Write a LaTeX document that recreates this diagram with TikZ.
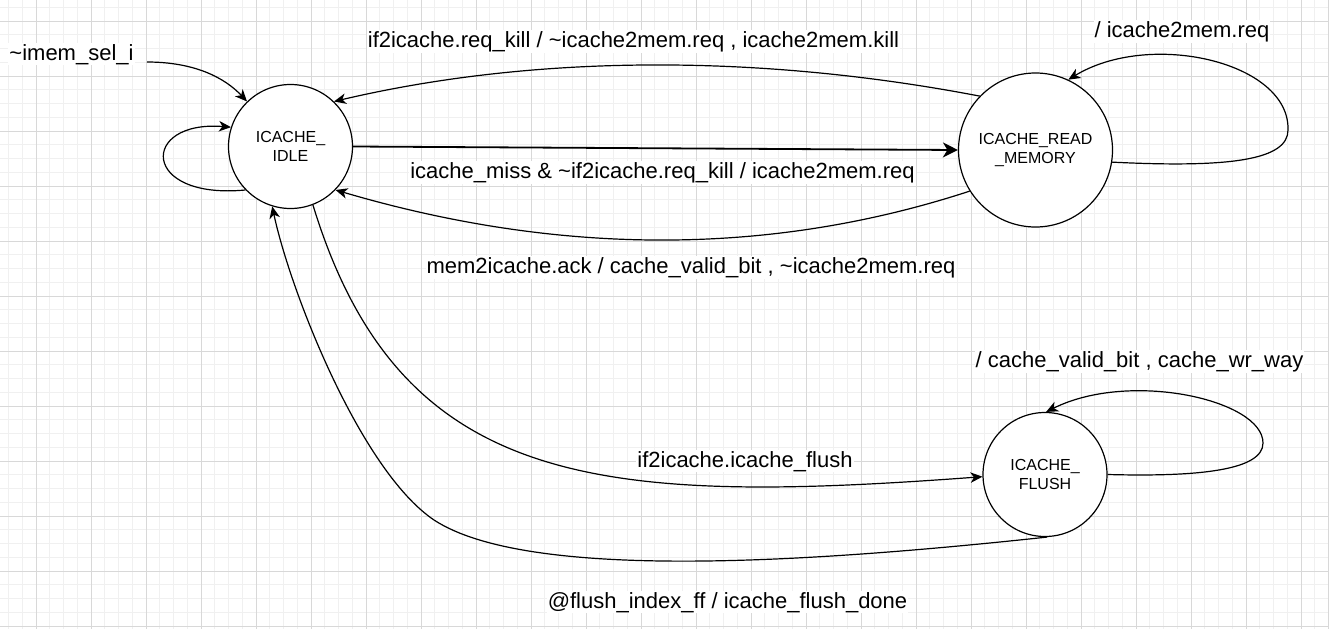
\documentclass[tikz,border=0pt]{standalone}
\usepackage{fontspec}
\setmainfont{Liberation Sans}
\usetikzlibrary{arrows.meta}
\definecolor{gridminor}{RGB}{240,240,240}
\definecolor{gridmajor}{RGB}{216,216,216}

\begin{document}
\begin{tikzpicture}[x=1pt,y=-1pt,
	state/.style={circle,draw,line width=1.2pt,fill=white,minimum size=124pt,inner sep=0pt,align=center,font=\fontsize{16}{19.5}\selectfont},
	trans/.style={line width=1.2pt,-{Stealth[length=12pt,width=10.5pt,inset=3.5pt]}},
	lbl/.style={fill=white,inner sep=1pt,anchor=base,font=\fontsize{22}{26}\selectfont}]
	\useasboundingbox (0,0) rectangle (1330,629);

	%grid
	\foreach \k in {0,...,96} \draw[gridminor,line width=0.8pt] ({8.5+13.75*\k},0) -- ({8.5+13.75*\k},629); %minor x
	\foreach \k in {0,...,45} \draw[gridminor,line width=0.8pt] (0,{7.25+13.75*\k}) -- (1328,{7.25+13.75*\k}); %minor y
	\foreach \k in {0,...,23} \draw[gridmajor,line width=1pt] ({36+55*\k},0) -- ({36+55*\k},629); %major x
	\foreach \k in {0,...,11} \draw[gridmajor,line width=1pt] (0,{21+55*\k}) -- (1328,{21+55*\k}); %major y
	\draw[gridmajor,line width=1pt] (1328,0) -- (1328,629); %page edge

	%states
	\node[state] (idle) at (290.5,146.5) {ICACHE\_\\IDLE};
	\node[state,minimum size=154pt] (readmem) at (1035.5,150) {ICACHE\_READ\\\_MEMORY};
	\node[state] (flush) at (1045,474.5) {ICACHE\_\\FLUSH};

	%waypoints
	\coordinate (start) at (147,62); %reset entry
	\coordinate (rmright) at (1288,130); %read loop turn
	\coordinate (flright) at (1263,443); %flush loop turn
	\coordinate (flback) at (434,520); %flush return bend

	%transitions
	\draw[trans] (start) .. controls (195,62) and (225,78) .. (idle.134); %reset
	\draw[trans] (idle.224) .. controls (140,200) and (140,120) .. (idle.162); %idle loop
	\draw[trans] (readmem.136) .. controls (760,54) and (536,54) .. (idle.46); %kill
	\draw[trans,line width=1.8pt,-{Stealth[length=15pt,width=15pt,inset=4.5pt]}] (idle.0) -- (readmem.180); %miss
	\draw[trans] (readmem.212) .. controls (790,250) and (580,262) .. (idle.316); %ack
	\draw[trans] (readmem.351) .. controls (1230,168) and (1288,160) .. (rmright)
	  .. controls (1290,62) and (1150,30) .. (readmem.65); %read loop
	\draw[trans] (flush.0) .. controls (1200,477) and (1263,470) .. (flright)
	  .. controls (1263,400) and (1130,370) .. (flush.89); %flush loop
	\draw[trans] (idle.291) .. controls (400,490) and (600,505) .. (flush.182); %to flush
	\draw[trans] (flush.272) .. controls (797,564) and (526,580) .. (flback)
	  .. controls (360,470) and (290,290) .. (idle.253); %flush done

	%labels
	\node[lbl] (lreset) at (71.5,60) {\textasciitilde imem\_sel\_i};
	\node[lbl] (lkill) at (633.5,47) {if2icache.req\_kill / \textasciitilde icache2mem.req , icache2mem.kill};
	\node[lbl] (lreq) at (1182,37) {/ icache2mem.req};
	\node[lbl] (lmiss) at (662.5,178) {icache\_miss \& \textasciitilde if2icache.req\_kill / icache2mem.req};
	\node[lbl] (lack) at (691,273) {mem2icache.ack / cache\_valid\_bit , \textasciitilde icache2mem.req};
	\node[lbl] (lway) at (1139.5,367) {/ cache\_valid\_bit , cache\_wr\_way};
	\node[lbl] (lflush) at (745,467) {if2icache.icache\_flush};
	\node[lbl] (ldone) at (727.5,608) {@flush\_index\_ff / icache\_flush\_done};
\end{tikzpicture}
\end{document}
